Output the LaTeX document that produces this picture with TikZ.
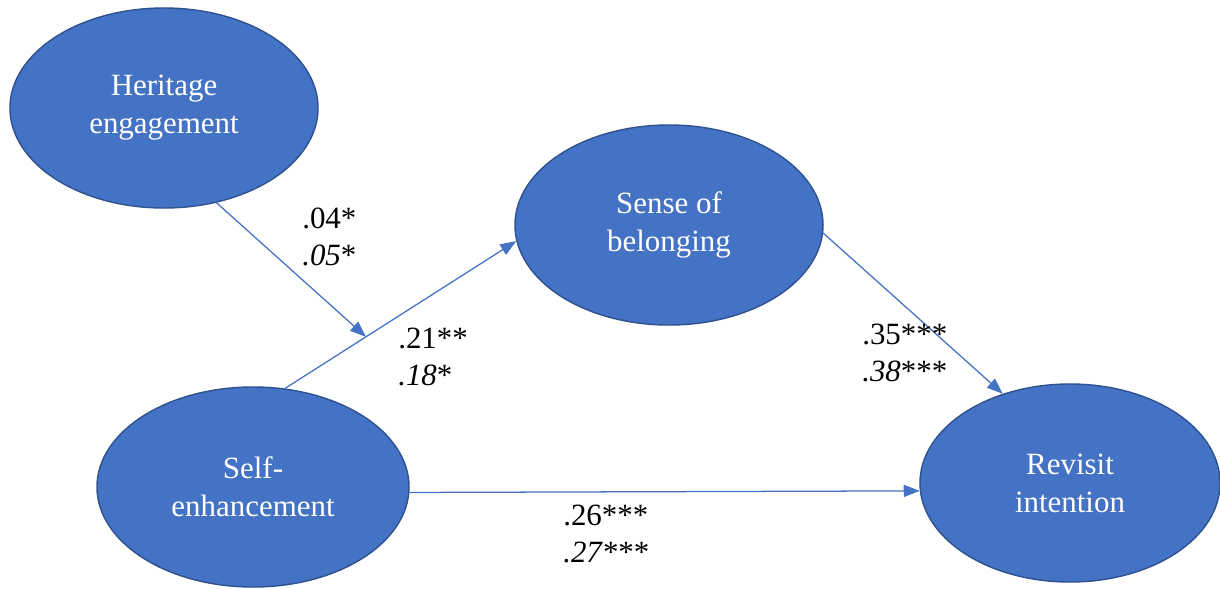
\documentclass[tikz,border=0pt]{standalone}
\usepackage{fontspec}
\setmainfont{Liberation Serif}
\usetikzlibrary{shapes.geometric,arrows.meta,positioning}
\definecolor{ovalblue}{HTML}{4472C4}
\definecolor{ovalline}{HTML}{2F528F}

\begin{document}
\begin{tikzpicture}[
    x=0.025cm, y=-0.025cm,
    construct/.style={ellipse, draw=ovalline, line width=1pt, fill=ovalblue, text=white, minimum width=7.7cm, minimum height=5cm, inner sep=0pt, align=center, font=\fontsize{22}{27}\selectfont},
    link/.style={-{Triangle[length=0.4cm, width=0.3cm]}, draw=ovalblue, line width=0.9pt},
    coef/.style={align=left, inner sep=0pt, anchor=north west, font=\fontsize{22}{26}\selectfont}
  ]
    \useasboundingbox (0,0) rectangle (1220,588);

    \node[construct] (heritage) at (164,108) {Heritage\\engagement};
    \node[construct] (belong) at (669,225) {Sense of\\belonging};
    \node[construct, minimum width=7.8cm] (selfenh) at (253,487) {Self-\\enhancement};
    \node[construct, minimum width=7.5cm, minimum height=4.95cm] (revisit) at (1070,483) {Revisit\\intention};

    \draw[link] (selfenh.72) -- coordinate[pos=0.35] (meet) (belong.186);
    \draw[link] (heritage.-61) -- (meet);
    \draw[link] (belong.-3) -- (revisit.127);
    \draw[link] (selfenh.-2) -- (revisit.183);

    \node[coef] (c1) at (302,208) {.04*\\\textit{.05}*};
    \node[coef] (c2) at (398,328) {.21**\\\textit{.18}*};
    \node[coef] (c3) at (862,324) {.35***\\\textit{.38}***};
    \node[coef] (c4) at (563,505) {.26***\\\textit{.27}***};
  \end{tikzpicture}
\end{document}
